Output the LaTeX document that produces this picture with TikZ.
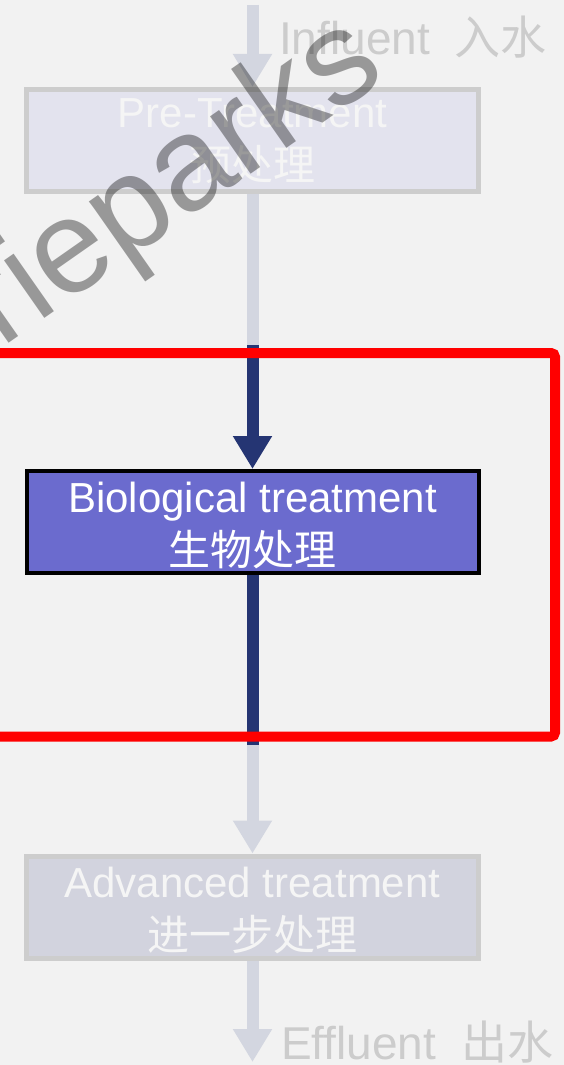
\documentclass[tikz,border=0pt]{standalone}
\usepackage{fontspec}
\setmainfont{Liberation Sans}
\newfontfamily\cjk{Noto Sans CJK SC}
\usetikzlibrary{arrows.meta}

\definecolor{bgcol}{HTML}{F2F2F2}
\definecolor{flowgray}{HTML}{D3D6E0}
\definecolor{flowdark}{HTML}{253573}
\definecolor{prefill}{HTML}{E3E3EE}
\definecolor{biofill}{HTML}{6B6BCE}
\definecolor{advfill}{HTML}{D2D3DE}
\definecolor{boxline}{HTML}{CDCDCD}
\definecolor{fadetext}{HTML}{F5F5F5}
\definecolor{labeltext}{HTML}{CCCCCC}

\begin{document}
\begin{tikzpicture}[x=1pt,y=-1pt]
                \tikzstyle{procbox}=[rectangle,draw=boxline,line width=5pt,minimum width=452pt,minimum height=102pt,inner sep=0pt]
                \tikzstyle{boxtext}=[align=center,inner sep=0pt,text=fadetext,font=\fontsize{42}{53}\selectfont]
                \tikzstyle{flow}=[line width=12pt,-{Triangle[width=37pt,length=33pt]}]
                \tikzstyle{endlabel}=[anchor=base west,text=labeltext,inner sep=0pt,font=\fontsize{46}{50}\selectfont]
                        \fill[bgcol] (0,0) rectangle (564,1065);
                        \useasboundingbox (0,0) rectangle (564,1065);

                        \coordinate (in) at (252.5,5);
                        \coordinate (out) at (252.5,1062);
                        \coordinate (c-1) at (252.5,345);
                        \coordinate (c-2) at (252.5,745);

                        \node[procbox,fill=prefill] (pre) at (252.5,140.5) {};
                        \node[procbox,fill=biofill,draw=black,line width=4pt] (bio) at (252.5,522) {};
                        \node[procbox,fill=advfill] (adv) at (252.5,907) {};

                        \node[boxtext] (pre-text) at ([yshift=-1pt]pre.center) {Pre-Treatment\\{\cjk 预处理}};
                        \node[boxtext,text=white] (bio-text) at ([yshift=-3pt]bio.center) {Biological treatment\\{\cjk 生物处理}};
                        \node[boxtext] (adv-text) at ([yshift=-3pt]adv.center) {Advanced treatment\\{\cjk 进一步处理}};

                        \node[endlabel] (influent) at (279,55) {Influent\hspace{12pt} {\cjk 入水}};
                        \node[endlabel] (effluent) at (281,1059) {Effluent\hspace{12pt} {\cjk 出水}};

                    \foreach \from/\to in {in/pre.north, c-2/adv.north, adv.south/out}
                        \draw[flow,flowgray] (\from) -- (\to);
                        \draw[flowgray,line width=12pt] (pre.south) -- (c-1);
                        \draw[flow,flowdark] (c-1) -- (bio.north);
                        \draw[flowdark,line width=12pt] (bio.south) -- (c-2);

                        \draw[red,line width=10pt,rounded corners=4pt] (-20,353) -- (555,353) -- (555,736.5) -- (-20,736.5);

                        \node[anchor=base west,rotate=35,text=black,text opacity=0.37,inner sep=0pt,font=\fontsize{133}{140}\selectfont] (mark) at (1,349) {rieparks};
            \end{tikzpicture}
\end{document}
